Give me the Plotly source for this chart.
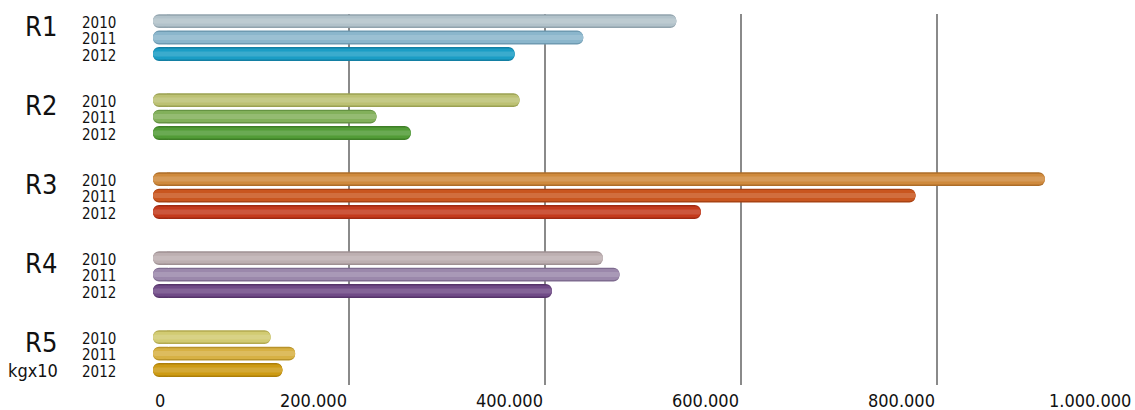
import plotly.graph_objects as go

regions = ["R1", "R2", "R3", "R4", "R5"]
years = ["2010", "2011", "2012"]
values = {
    "R1": [534000, 439000, 369000],
    "R2": [374000, 228000, 263000],
    "R3": [910000, 778000, 559000],
    "R4": [459000, 476000, 407000],
    "R5": [120000, 145000, 132000],
}
colors = {
    "R1": ["#b2c2ca", "#8bb6cc", "#1b9dc5"],
    "R2": ["#bcc173", "#82b05b", "#529c37"],
    "R3": ["#cf8a3d", "#c9561f", "#c43a1c"],
    "R4": ["#bdafb1", "#9b88ab", "#704b87"],
    "R5": ["#d2cb72", "#d7b144", "#cd9b14"],
}
edge = {
    "R1": ["#91a3ad", "#6e9ab1", "#137fa3"],
    "R2": ["#9ba152", "#659343", "#3e7f27"],
    "R3": ["#ad6d28", "#a84213", "#9f2a12"],
    "R4": ["#9f9093", "#7e6b8f", "#56346a"],
    "R5": ["#b3aa50", "#b8932a", "#ad7f08"],
}
tick_vals = [0, 200000, 400000, 600000, 800000, 1000000]
tick_text = ["0", "200.000", "400.000", "600.000", "800.000", "1.000.000"]
unit_note = "kgx10"


def blend(hexc, t):
    h = hexc.lstrip("#")
    r, g, b = (int(h[i:i + 2], 16) for i in (0, 2, 4))
    r, g, b = (round(c + (255 - c) * t) for c in (r, g, b))
    return f"rgb({r},{g},{b})"


GROUP = 4.8
ys, xs, cs, es, hs, yl = [], [], [], [], [], []
for g, r in enumerate(regions):
    for k, yr in enumerate(years):
        ys.append(g * GROUP + k)
        xs.append(values[r][k])
        cs.append(colors[r][k])
        es.append(edge[r][k])
        hs.append(blend(colors[r][k], 0.14))
        yl.append(yr)

PX_PER_Y = 16.46      # pixels per y unit in this layout
PX_PER_VAL = 0.00098  # pixels per value unit in this layout

fig = go.Figure()
layers = [(0.84, es), (0.66, cs), (0.3, hs)]
for w, col in layers:
    rad = w * PX_PER_Y / 2 / PX_PER_VAL
    # left rounded cap (long enough for a full semicircle)
    fig.add_trace(go.Bar(
        x=[-3 * rad] * len(ys), y=ys, base=[3 * rad] * len(ys), orientation="h", width=w,
        marker=dict(color=col, line=dict(width=0), cornerradius="50%"),
        hoverinfo="skip",
    ))
    # body with rounded right end
    b0 = 1.5 * rad
    fig.add_trace(go.Bar(
        x=[v - b0 for v in xs], y=ys, base=[b0] * len(ys), orientation="h", width=w,
        marker=dict(color=col, line=dict(width=0), cornerradius="50%"),
        hoverinfo="skip",
    ))

font_fam = "Liberation Sans Narrow, DejaVu Sans Condensed, sans-serif"
ann = []
for y, t in zip(ys, yl):
    ann.append(dict(x=0, xref="paper", y=y + 0.1, yref="y", text=t, showarrow=False,
                    xanchor="right", yanchor="middle", xshift=-35,
                    font=dict(size=15, color="#111", family=font_fam)))
for g, r in enumerate(regions):
    ann.append(dict(x=0, xref="paper", y=g * GROUP + 0.35, yref="y", text=r, showarrow=False,
                    xanchor="right", yanchor="middle", xshift=-94,
                    font=dict(size=27, color="#111", family=font_fam)))
ann.append(dict(x=0, xref="paper", y=(len(regions) - 1) * GROUP + 2.0, yref="y", text=unit_note,
                showarrow=False, xanchor="right", yanchor="middle", xshift=-93,
                font=dict(size=18, color="#111", family=font_fam)))
for v, t in zip(tick_vals, tick_text):
    ann.append(dict(x=v, xref="x", y=0, yref="paper", text=t, showarrow=False,
                    xanchor="left" if v == 0 else "right", yanchor="middle", yshift=-15,
                    font=dict(size=18, color="#111", family=font_fam)))

ymax = (len(regions) - 1) * GROUP + 2
fig.update_layout(
    width=1135, height=410,
    margin=dict(l=153, r=2, t=14, b=25),
    plot_bgcolor="white", paper_bgcolor="white",
    barmode="overlay", showlegend=False,
    annotations=ann,
    xaxis=dict(range=[0, 1000000], tickvals=tick_vals[1:], showticklabels=False,
               showgrid=True, gridcolor="#8a8a8a", gridwidth=1.5, zeroline=False,
               showline=False, ticks=""),
    yaxis=dict(range=[ymax + 0.91, -0.43], showticklabels=False, showgrid=False,
               zeroline=False, showline=False, ticks=""),
)
fig.write_html("out.html", config={"displayModeBar": False},
               post_script="document.body.style.margin='0';document.body.style.overflow='hidden';")
